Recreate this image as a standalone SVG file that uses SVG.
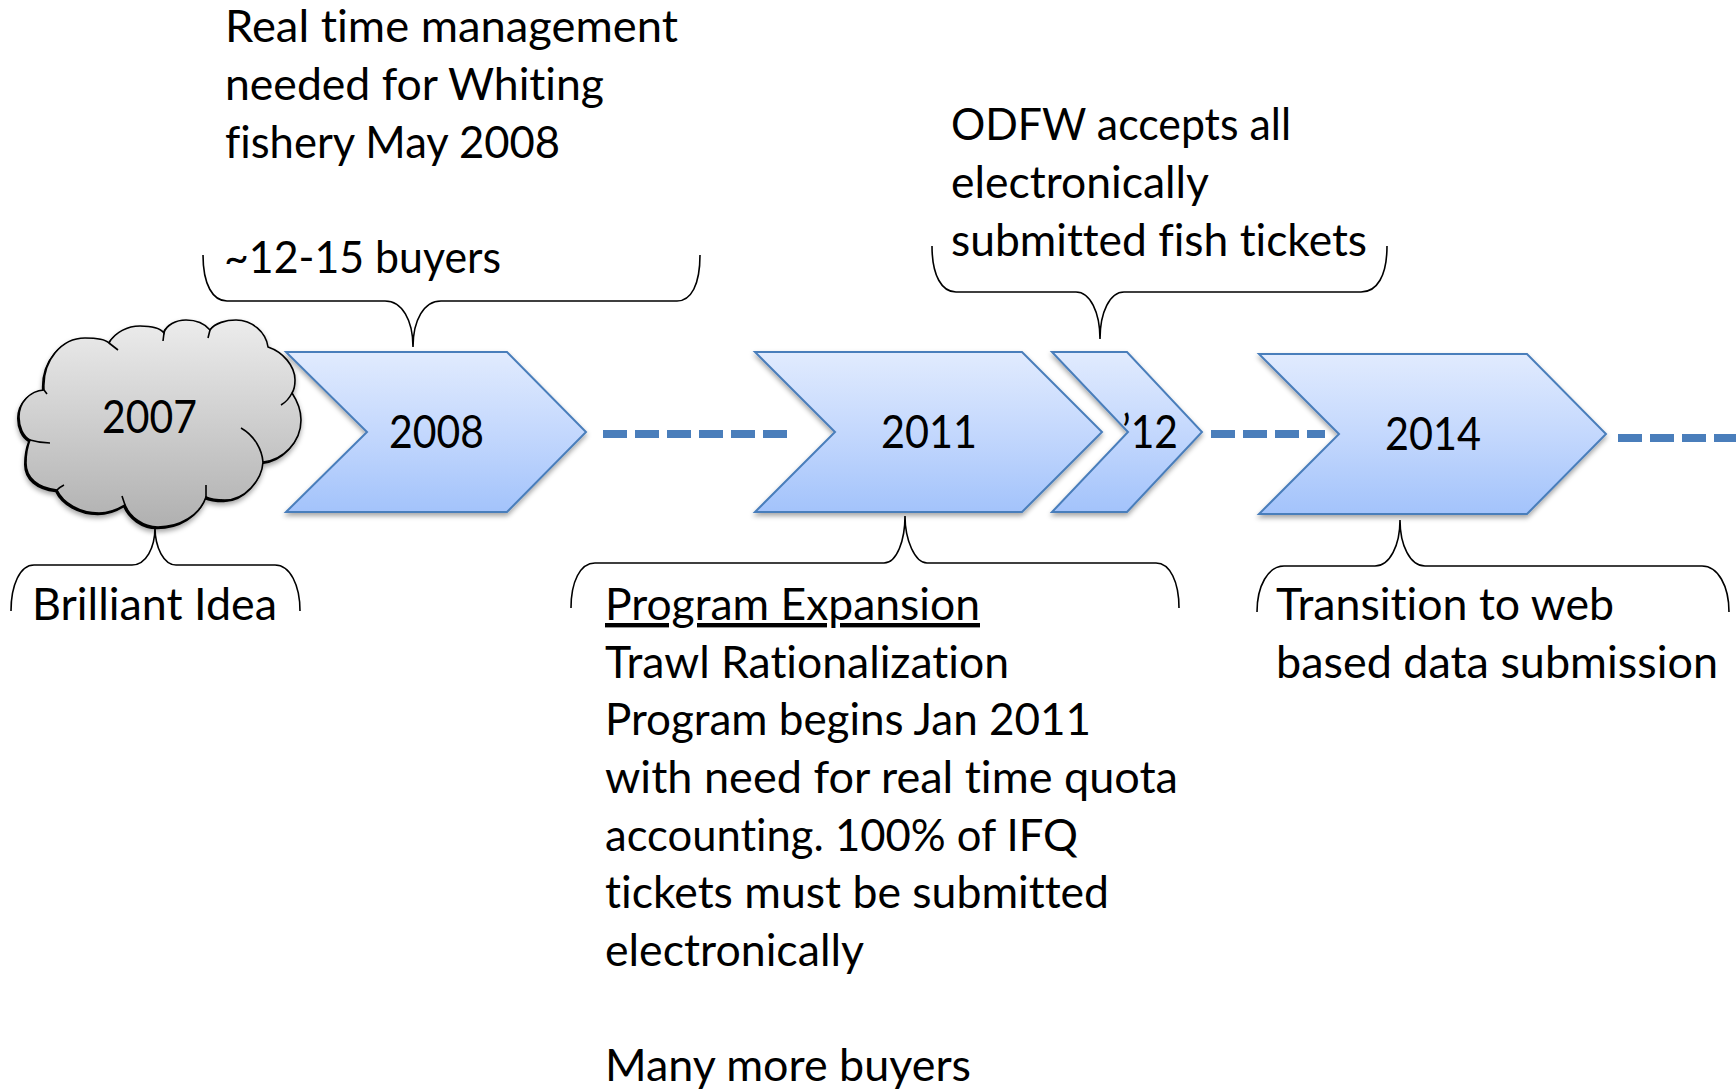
<svg xmlns="http://www.w3.org/2000/svg" width="1736" height="1089" viewBox="0 0 1736 1089">
<style>
text{font-family:Lato,"Liberation Sans",sans-serif;font-size:44px;fill:#000;font-variant-ligatures:none}
.yr{font-size:46px}
.chev{fill:url(#blue);stroke:#4a7ebb;stroke-width:2;filter:url(#sh)}
.brace{fill:none;stroke:#000;stroke-width:1.6}
.dash{fill:none;stroke:#4a7ebb;stroke-width:8;stroke-dasharray:24 8}
.cl{fill:none;stroke:#000;stroke-width:1.6}
</style>
<defs>
<linearGradient id="blue" x1="0" y1="0" x2="0" y2="1"><stop offset="0" stop-color="#e1ebfe"/><stop offset="0.5" stop-color="#c4d8fd"/><stop offset="1" stop-color="#a3c3fb"/></linearGradient>
<linearGradient id="grey" x1="0" y1="0" x2="0" y2="1"><stop offset="0" stop-color="#ececec"/><stop offset="1" stop-color="#b0b0b0"/></linearGradient>
<filter id="sh" x="-10%" y="-10%" width="125%" height="125%"><feDropShadow dx="0" dy="3" stdDeviation="2.5" flood-color="#000" flood-opacity="0.35"/></filter>
<path id="cloud" d="M44 390C42 360 62 338 85 338C97 338 106 340 109 343C115 332 128 326 140 326C150 326 160 328 164 333C166 325 176 320 186 320C196 320 205 324 210 330C215 323 226 320 236 320C252 320 266 332 268 347C283 352 295 366 295 380C295 386 294 390 292 393C298 402 301 412 301 420C301 442 283 460 263 462C262 480 245 500 225 500C217 500 210 499 206 497C200 515 180 527 158 527C143 527 130 517 125 505C115 511 107 513 99 513C80 513 63 503 57 490C38 488 26 478 26 463C26 453 28 445 30 440C23 436 19 427 19 417C19 402 30 391 44 390Z"/>
</defs>
<g id="connectors">
<path class="dash" d="M603 434H791"/>
<path class="dash" d="M1211 434H1325"/>
<path class="dash" d="M1618 438H1736"/>
<path class="brace" d="M203 255C203 285 213 301 227 301L385 301C402 301 413 320 413 347C413 320 424 301 441 301L677 301C691 301 700 285 700 255"/>
<path class="brace" d="M932 246C932 276 942 292 956 292L1076 292C1090 292 1100 312 1100 339C1100 312 1110 292 1124 292L1361 292C1377 292 1387 276 1387 246"/>
<path class="brace" d="M11 611C11 585 20 565 34 565L132 565C146 565 155 548 155 527C155 548 164 565 176 565L275 565C290 565 300 585 300 611"/>
<path class="brace" d="M571 608C571 582 580 563 595 563L884 563C897 563 905 540 905 516C905 540 915 563 927 563L1156 563C1170 563 1179 582 1179 608"/>
<path class="brace" d="M1257 612C1257 586 1268 566 1284 566L1375 566C1390 566 1400 545 1400 520C1400 545 1410 566 1425 566L1702 566C1718 566 1729 586 1729 612"/>
</g>
<g id="node-2007">
<g filter="url(#sh)">
<use href="#cloud" transform="translate(-1.2 1.5)" fill="#000" stroke="#000" stroke-width="1.6"/>
<use href="#cloud" fill="url(#grey)" stroke="#000" stroke-width="1.6"/>
</g>
<path class="cl" d="M109 343L118 350M164 333L163 341M210 330L208 338M292 393Q288 401 281 405M241 428C255 436 262 450 263 462M206 497L206 485M125 505L122 496M57 490Q60 487 64 485M30 440Q40 443 50 443M44 390L47 394"/>
<text class="yr" x="102" y="433" textLength="95" lengthAdjust="spacingAndGlyphs">2007</text>
</g>
<g id="node-2008">
<polygon class="chev" points="286,352 507,352 586,432 507,512 286,512 367,432"/>
<text class="yr" x="389" y="448" textLength="95" lengthAdjust="spacingAndGlyphs">2008</text>
</g>
<g id="node-2011">
<polygon class="chev" points="755,352 1022,352 1102,432 1022,512 755,512 835,432"/>
<text class="yr" x="881" y="448" textLength="96" lengthAdjust="spacingAndGlyphs">2011</text>
</g>
<g id="node-12">
<polygon class="chev" points="1052,352 1127,352 1202,432 1127,512 1052,512 1128,432"/>
<text class="yr" x="1122" y="448" textLength="56" lengthAdjust="spacingAndGlyphs">’12</text>
</g>
<g id="node-2014">
<polygon class="chev" points="1259,354 1527,354 1606,434 1527,514 1259,514 1339,434"/>
<text class="yr" x="1385" y="450" textLength="96" lengthAdjust="spacingAndGlyphs">2014</text>
</g>
<g id="note-2008">
<text x="225" y="42" textLength="453" lengthAdjust="spacingAndGlyphs">Real time management</text>
<text x="225" y="100" textLength="379" lengthAdjust="spacingAndGlyphs">needed for Whiting</text>
<text x="225" y="158" textLength="335" lengthAdjust="spacingAndGlyphs">fishery May 2008</text>
<text x="224" y="273" textLength="277" lengthAdjust="spacingAndGlyphs">~12-15 buyers</text>
</g>
<g id="note-odfw">
<text x="951" y="140" textLength="340" lengthAdjust="spacingAndGlyphs">ODFW accepts all</text>
<text x="951" y="198" textLength="258" lengthAdjust="spacingAndGlyphs">electronically</text>
<text x="951" y="256" textLength="416" lengthAdjust="spacingAndGlyphs">submitted fish tickets</text>
</g>
<g id="note-idea">
<text x="32" y="620" textLength="245" lengthAdjust="spacingAndGlyphs">Brilliant Idea</text>
</g>
<g id="note-2011">
<text x="605" y="620" textLength="375" lengthAdjust="spacingAndGlyphs" text-decoration="underline">Program Expansion</text>
<text x="605" y="678" textLength="404" lengthAdjust="spacingAndGlyphs">Trawl Rationalization</text>
<text x="605" y="735" textLength="486" lengthAdjust="spacingAndGlyphs">Program begins Jan 2011</text>
<text x="605" y="793" textLength="573" lengthAdjust="spacingAndGlyphs">with need for real time quota</text>
<text x="605" y="851" textLength="473" lengthAdjust="spacingAndGlyphs">accounting. 100% of IFQ</text>
<text x="605" y="908" textLength="504" lengthAdjust="spacingAndGlyphs">tickets must be submitted</text>
<text x="605" y="966" textLength="259" lengthAdjust="spacingAndGlyphs">electronically</text>
<text x="605" y="1081" textLength="366" lengthAdjust="spacingAndGlyphs">Many more buyers</text>
</g>
<g id="note-2014">
<text x="1276" y="620" textLength="338" lengthAdjust="spacingAndGlyphs">Transition to web</text>
<text x="1276" y="678" textLength="442" lengthAdjust="spacingAndGlyphs">based data submission</text>
</g>
</svg>
